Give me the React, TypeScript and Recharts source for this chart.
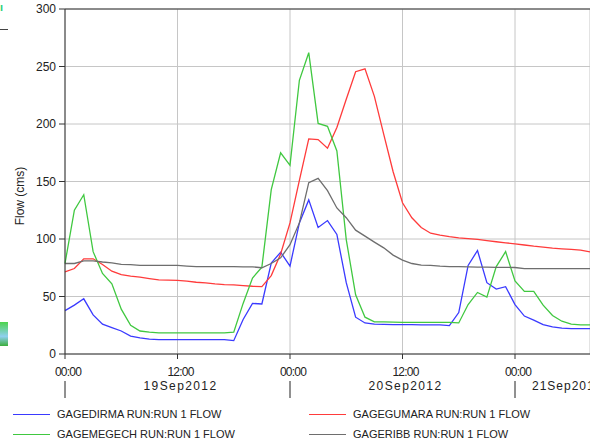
import { LineChart, Line, XAxis, YAxis, CartesianGrid, ReferenceLine } from "recharts";

// hours since 19Sep2012 00:00
const hours = Array.from({ length: 57 }, (_, i) => i);

const dirma = [
  37.7, 42.5, 48, 34, 26, 23, 20, 15.5, 14, 13, 12.5, 12.5, 12.5, 12.5, 12.5, 12.5, 12.5, 12.5, 11.6, 30,
  44, 43.5, 79, 88.5, 76.5, 114, 134, 110, 116, 104, 62, 32, 27, 26, 25.8, 25.5, 25.5, 25.5, 25.3, 25.3,
  25.3, 24.7, 36, 77, 90, 62, 56.5, 58.5, 43, 33, 29.5, 25.5, 23.5, 22.5, 22, 22, 22,
];
const megech = [
  78.7, 125, 138.5, 89, 70, 61, 39, 25, 20, 19, 18.3, 18.3, 18.3, 18.3, 18.3, 18.3, 18.3, 18.3, 19, 44,
  66, 75.5, 143, 175, 164, 238, 262, 200.5, 198, 176.5, 99.5, 51.5, 32, 28, 28, 27.7, 27.5, 27.5, 27.5, 27.5,
  27.5, 27.5, 27, 43, 53.5, 49.5, 76, 89, 63.5, 54.5, 54.5, 42.5, 33.5, 28.5, 26, 25.3, 25.3,
];
const gumara = [
  71.4, 74.3, 82.8, 82.8, 77.8, 72, 69, 67.7, 66.8, 65.6, 64.5, 64.2, 64, 63.3, 62.4, 61.8, 61, 60.4, 60.1, 59.5,
  58.9, 58.6, 68.2, 87, 114, 151, 187, 186.5, 179, 197, 221.5, 245.5, 248, 224, 191, 158.5, 131.5, 118.5, 110, 105,
  103.4, 102, 101, 100.3, 99.6, 98.6, 97.6, 96.7, 95.8, 94.8, 93.8, 93, 92, 91.5, 91, 90.3, 88.8,
];
const ribb = [
  78.7, 78.7, 81, 81, 80, 79.3, 78, 77.8, 77, 77, 77, 77, 77, 76.5, 76, 76, 76, 76, 76, 75.8,
  75.8, 75, 78.7, 83.6, 95, 114, 149, 152.7, 142, 127, 118.5, 107.7, 102.5, 97.3, 92.3, 86, 81.6, 78.7, 77.3, 77,
  76.4, 76, 76, 75.8, 75.6, 75.5, 75.4, 75.3, 75.2, 74.3, 74.3, 74.3, 74.3, 74.3, 74.3, 74.3, 74.3,
];

const xTicks = [0, 12, 24, 36, 48];
const timeLabels = ["00:00", "12:00", "00:00", "12:00", "00:00"];
const dayLabels = ["19Sep2012", "20Sep2012", "21Sep2012"];
const yTicks = [0, 50, 100, 150, 200, 250, 300];

const series = [
  { key: "dirma", name: "GAGEDIRMA RUN:RUN 1 FLOW", color: "#3a3aff" },
  { key: "gumara", name: "GAGEGUMARA RUN:RUN 1 FLOW", color: "#ff3b3b" },
  { key: "megech", name: "GAGEMEGECH RUN:RUN 1 FLOW", color: "#40c840" },
  { key: "ribb", name: "GAGERIBB RUN:RUN 1 FLOW", color: "#6e6e6e" },
];

const data = hours.map((t, i) => ({
  t,
  dirma: dirma[i],
  megech: megech[i],
  gumara: gumara[i],
  ribb: ribb[i],
}));

const FONT = "'Liberation Sans', Arial, sans-serif";
const X_MAX = 56;

function TimeTick(props: any) {
  const { x, y, payload, index } = props;
  const v = payload.value as number;
  const isMidnight = v % 24 === 0;
  const day = Math.floor(v / 24);
  return (
    <g>
      <text x={x + 3} y={y + 15} textAnchor="middle" fontSize={12} fontFamily={FONT} fill="#222" letterSpacing={-0.8}>
        {timeLabels[index]}
      </text>
      {isMidnight && <line x1={x} x2={x} y1={y + 20} y2={y + 37} stroke="#222" strokeWidth={1} />}
      {!isMidnight && (
        <text x={x + 3} y={y + 29} textAnchor="middle" fontSize={12} fontFamily={FONT} fill="#222" letterSpacing={1.4}>
          {dayLabels[day]}
        </text>
      )}
      {isMidnight && v + 12 > X_MAX && (
        <text x={x + 17} y={y + 29} textAnchor="start" fontSize={12} fontFamily={FONT} fill="#222" letterSpacing={1}>
          {dayLabels[day]}
        </text>
      )}
    </g>
  );
}

function FlowLabel() {
  return (
    <text x={24} y={196} transform="rotate(-90 24 196)" textAnchor="middle" fontSize={12} fontFamily={FONT} fill="#222">
      Flow (cms)
    </text>
  );
}

export default function App() {
  const legendPos = [
    { left: 13, top: 408 },
    { left: 309, top: 408 },
    { left: 13, top: 428 },
    { left: 309, top: 428 },
  ];
  return (
    <div style={{ position: "absolute", left: 0, top: 0, width: 590, height: 442, overflow: "hidden", background: "#fff" }}>
      <LineChart width={600} height={442} data={data} margin={{ top: 9, right: 10, bottom: 48, left: 0 }}>
        <CartesianGrid stroke="#c6c6c6" strokeWidth={1} />
        <XAxis
          dataKey="t"
          type="number"
          domain={[0, X_MAX]}
          ticks={xTicks}
          height={40}
          tickSize={5}
          tickMargin={2}
          tick={<TimeTick />}
          stroke="#333"
          interval={0}
        />
        <YAxis
          domain={[0, 300]}
          ticks={yTicks}
          width={65}
          tickSize={6}
          tickMargin={3}
          stroke="#333"
          tick={{ fontSize: 12, fontFamily: FONT, fill: "#222" }}
          label={<FlowLabel />}
        />
        <ReferenceLine y={300} stroke="#333" strokeWidth={1} />
        {series.map((s) => (
          <Line
            key={s.key}
            dataKey={s.key}
            name={s.name}
            stroke={s.color}
            strokeWidth={1.3}
            dot={false}
            type="linear"
            isAnimationActive={false}
          />
        ))}
      </LineChart>
      {series.map((s, i) => (
        <div
          key={s.key}
          style={{
            position: "absolute",
            left: legendPos[i].left,
            top: legendPos[i].top,
            display: "flex",
            alignItems: "center",
            fontFamily: FONT,
            fontSize: 11,
            color: "#222",
            whiteSpace: "nowrap",
          }}
        >
          <span style={{ display: "inline-block", width: 37, height: 0, borderTop: `1.5px solid ${s.color}`, marginRight: 7 }} />
          <span>{s.name}</span>
        </div>
      ))}
      <div style={{ position: "absolute", left: 0, top: 1, color: "#2bd07a", fontFamily: FONT, fontSize: 11, fontWeight: "bold" }}>ı</div>
      <div style={{ position: "absolute", left: 0, top: 29, width: 8, height: 1, background: "#444" }} />
      <div style={{ position: "absolute", left: 0, top: 322, width: 8, height: 24, background: "linear-gradient(#4cd34c, #8fd0f0 60%, #3cae3c)" }} />
    </div>
  );
}
